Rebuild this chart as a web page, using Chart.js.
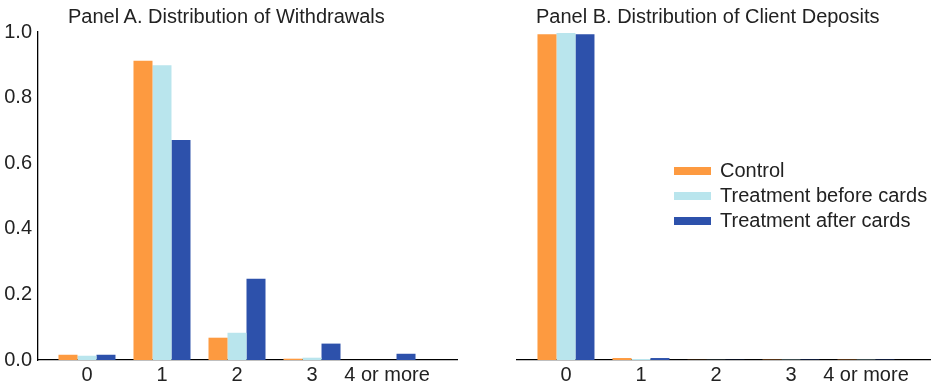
<!DOCTYPE html>
<html>
<head>
<meta charset="utf-8">
<script src="https://cdn.jsdelivr.net/npm/chart.js@4/dist/chart.umd.min.js"></script>
<style>
  body { margin: 0; background: #fff; }
  #wrap { position: relative; width: 931px; height: 387px; overflow: hidden; font-family: "Liberation Sans", Arial, sans-serif; color: #222; }
  canvas { position: absolute; top: 0; }
  .title { position: absolute; top: 6px; font-size: 20px; line-height: 1; white-space: nowrap; }
  #legend { position: absolute; left: 674px; top: 158px; font-size: 20px; }
  .item { display: flex; align-items: center; height: 25px; }
  .swatch { width: 37px; height: 8px; margin-right: 9px; }
</style>
</head>
<body>
<div id="wrap">
  <canvas id="panelA" width="470" height="387" style="left:0"></canvas>
  <canvas id="panelB" width="461" height="387" style="left:470px"></canvas>
  <div class="title" style="left:68px">Panel A. Distribution of Withdrawals</div>
  <div class="title" style="left:536px">Panel B. Distribution of Client Deposits</div>
  <div id="legend"></div>
</div>
<script>
const categories = ['0', '1', '2', '3', '4 or more'];
const seriesNames = ['Control', 'Treatment before cards', 'Treatment after cards'];
const seriesColors = ['#fd9a40', '#b9e5ed', '#2d51ab'];
const yTicks = [0, 0.2, 0.4, 0.6, 0.8, 1.0];

// share of clients by number of withdrawals
const withdrawControl = [0.016, 0.912, 0.068, 0.004, 0];
const withdrawBefore = [0.013, 0.899, 0.083, 0.007, 0];
const withdrawAfter = [0.016, 0.671, 0.248, 0.050, 0.019];

// share of clients by number of deposits
const depositControl = [0.993, 0.006, 0.0005, 0.001, 0.001];
const depositBefore = [0.997, 0.003, 0.0005, 0.001, 0.001];
const depositAfter = [0.993, 0.006, 0.0005, 0.001, 0.001];

const font = { family: '"Liberation Sans", Arial, sans-serif', size: 20 };

const makeDatasets = (series) => series.map((vals, s) => ({
    label: seriesNames[s],
    data: vals.map((v, i) => ({ x: i, y: v })),
    backgroundColor: seriesColors[s],
    borderWidth: 0,
    categoryPercentage: 0.76,
    barPercentage: 1.0
}));

const makeChart = (id, series, opts) => new Chart(document.getElementById(id), {
    type: 'bar',
    data: { datasets: makeDatasets(series) },
    options: {
        responsive: false,
        animation: false,
        devicePixelRatio: 1,
        layout: { padding: { top: 32, left: opts.padLeft, right: opts.padRight, bottom: 0 } },
        plugins: { legend: { display: false }, title: { display: false }, tooltip: { enabled: false } },
        scales: {
            x: {
                type: 'linear',
                offset: false,
                min: -0.653,
                max: opts.xMax,
                z: 1,
                grid: { display: false, drawTicks: false, offset: false },
                border: { display: true, color: '#000', width: 1.3 },
                afterBuildTicks: (scale) => { scale.ticks = categories.map((_, i) => ({ value: i })); },
                afterFit: (scale) => { scale.height = 27; },
                ticks: {
                    padding: 3,
                    color: '#222',
                    font: font,
                    maxRotation: 0,
                    autoSkip: false,
                    callback: (v) => categories[v]
                }
            },
            y: {
                display: opts.showY,
                min: 0,
                max: 1,
                grid: { display: false, drawTicks: false },
                border: { display: true, color: '#000', width: 1.3 },
                afterBuildTicks: (scale) => { scale.ticks = yTicks.map(v => ({ value: v })); },
                afterFit: (scale) => { scale.width = opts.showY ? 38 : 0; },
                ticks: {
                    padding: 6,
                    color: '#222',
                    font: font,
                    callback: (v) => v.toFixed(1)
                }
            }
        }
    }
});

makeChart('panelA', [withdrawControl, withdrawBefore, withdrawAfter],
    { padLeft: 0, padRight: 13, xMax: 4.933, showY: true });
makeChart('panelB', [depositControl, depositBefore, depositAfter],
    { padLeft: 47, padRight: 0, xMax: 4.867, showY: false });

// legend built from the series names
const legend = document.getElementById('legend');
seriesNames.forEach((name, s) => {
    const item = document.createElement('div');
    item.className = 'item';
    const sw = document.createElement('span');
    sw.className = 'swatch';
    sw.style.background = seriesColors[s];
    item.appendChild(sw);
    item.appendChild(document.createTextNode(name));
    legend.appendChild(item);
});
</script>
</body>
</html>
